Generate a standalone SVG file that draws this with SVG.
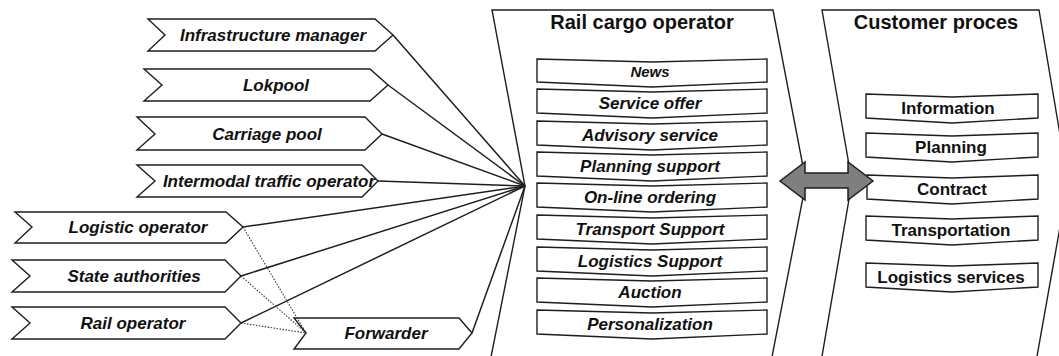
<svg xmlns="http://www.w3.org/2000/svg" width="1059" height="356" viewBox="0 0 1059 356">
<style>
.sh{fill:#fff;stroke:#1e1e1e;stroke-width:1.4;stroke-linejoin:miter}
.ln{fill:none;stroke:#1e1e1e;stroke-width:1.5}
.dt{fill:none;stroke:#333;stroke-width:1.1;stroke-dasharray:1.5 1.5}
.t{font-family:"Liberation Sans",Arial,sans-serif;font-weight:bold;font-style:italic;font-size:17px;fill:#111;text-anchor:middle}
.tn{font-family:"Liberation Sans",Arial,sans-serif;font-weight:bold;font-size:17px;fill:#111;text-anchor:middle}
.ti{font-family:"Liberation Sans",Arial,sans-serif;font-weight:bold;font-size:20px;fill:#111;text-anchor:middle}
.ar{fill:#7f7f7f;stroke:#1e1e1e;stroke-width:1.5;stroke-linejoin:miter}
</style>
<rect width="1059" height="356" fill="#fff"/>
<g id="panel-rail-cargo-operator">
<path class="sh" d="M492,10 L773,10 L806,182 L771,362 L490,362 L525,186 Z"/>
<text class="ti" x="642" y="29">Rail cargo operator</text>
</g>
<g id="panel-customer-proces">
<path class="sh" d="M822,10 L1039,10 L1068,182 L1036,362 L821,362 L852,182 Z"/>
<text class="ti" x="936" y="29">Customer proces</text>
</g>
<g id="node-infrastructure-manager">
<polygon class="sh" points="148,19 375,19 393,35 375,51 148,51 165,35"/>
<text class="t" x="273" y="41">Infrastructure manager</text>
</g>
<g id="node-lokpool">
<polygon class="sh" points="144,69 370,69 388,85 370,101 144,101 162,85"/>
<text class="t" x="276" y="91">Lokpool</text>
</g>
<g id="node-carriage-pool">
<polygon class="sh" points="137,117 365,117 382,134 365,150 137,150 155,134"/>
<text class="t" x="267" y="140">Carriage pool</text>
</g>
<g id="node-intermodal-traffic-operator">
<polygon class="sh" points="137,165 362,165 378,181 362,197 137,197 155,181"/>
<text class="t" x="269" y="187">Intermodal traffic operator</text>
</g>
<g id="node-logistic-operator">
<polygon class="sh" points="15,212 226,212 243,227 226,243 15,243 32,227"/>
<text class="t" x="138" y="233">Logistic operator</text>
</g>
<g id="node-state-authorities">
<polygon class="sh" points="12,260 225,260 241,276 225,292 12,292 30,276"/>
<text class="t" x="134" y="282">State authorities</text>
</g>
<g id="node-rail-operator">
<polygon class="sh" points="12,307 225,307 241,323 225,339 12,339 30,323"/>
<text class="t" x="133" y="329">Rail operator</text>
</g>
<g id="node-forwarder">
<polygon class="sh" points="294,318 459,318 472,333 459,349 294,349 306,333"/>
<text class="t" x="386" y="339">Forwarder</text>
</g>
<g id="rail-services">
<g id="svc-news"><path class="sh" d="M537,59 L652,62 L767,59 L767,82 L652,87 L537,82 Z"/><text class="t" style="font-size:15px" x="650" y="77">News</text></g>
<g id="svc-service-offer"><path class="sh" d="M537,89 L652,92 L767,89 L767,113 L652,118 L537,113 Z"/><text class="t" x="650" y="109">Service offer</text></g>
<g id="svc-advisory-service"><path class="sh" d="M537,121 L652,124 L767,121 L767,145 L652,150 L537,145 Z"/><text class="t" x="650" y="141">Advisory service</text></g>
<g id="svc-planning-support"><path class="sh" d="M537,152 L652,155 L767,152 L767,176 L652,181 L537,176 Z"/><text class="t" x="650" y="172">Planning support</text></g>
<g id="svc-on-line-ordering"><path class="sh" d="M537,183 L652,186 L767,183 L767,207 L652,212 L537,207 Z"/><text class="t" x="650" y="203">On-line ordering</text></g>
<g id="svc-transport-support"><path class="sh" d="M537,215 L652,218 L767,215 L767,239 L652,244 L537,239 Z"/><text class="t" x="650" y="235">Transport Support</text></g>
<g id="svc-logistics-support"><path class="sh" d="M537,247 L652,250 L767,247 L767,271 L652,276 L537,271 Z"/><text class="t" x="650" y="267">Logistics Support</text></g>
<g id="svc-auction"><path class="sh" d="M537,278 L652,281 L767,278 L767,302 L652,307 L537,302 Z"/><text class="t" x="650" y="298">Auction</text></g>
<g id="svc-personalization"><path class="sh" d="M537,310 L652,313 L767,310 L767,334 L652,339 L537,334 Z"/><text class="t" x="650" y="330">Personalization</text></g>
</g>
<g id="customer-steps">
<g id="step-information"><path class="sh" d="M866,94 L952,97 L1038,94 L1038,118 L952,123 L866,118 Z"/><text class="tn" x="948" y="114">Information</text></g>
<g id="step-planning"><path class="sh" d="M866,133 L952,136 L1038,133 L1038,157 L952,162 L866,157 Z"/><text class="tn" x="951" y="153">Planning</text></g>
<g id="step-contract"><path class="sh" d="M867,175 L952,178 L1038,175 L1038,199 L952,204 L867,199 Z"/><text class="tn" x="952" y="195">Contract</text></g>
<g id="step-transportation"><path class="sh" d="M866,216 L952,219 L1038,216 L1038,240 L952,245 L866,240 Z"/><text class="tn" x="951" y="236">Transportation</text></g>
<g id="step-logistics-services"><path class="sh" d="M866,263 L952,266 L1038,263 L1038,287 L952,292 L866,287 Z"/><text class="tn" x="951" y="283">Logistics services</text></g>
</g>
<g id="connectors">
<line class="ln" x1="393" y1="35" x2="525" y2="186"/>
<line class="ln" x1="388" y1="85" x2="525" y2="186"/>
<line class="ln" x1="382" y1="134" x2="525" y2="186"/>
<line class="ln" x1="378" y1="181" x2="525" y2="186"/>
<line class="ln" x1="243" y1="227" x2="525" y2="186"/>
<line class="ln" x1="241" y1="276" x2="525" y2="186"/>
<line class="ln" x1="241" y1="323" x2="525" y2="186"/>
<line class="ln" x1="472" y1="333" x2="525" y2="186"/>
<line class="dt" x1="243" y1="227" x2="306" y2="333"/>
<line class="dt" x1="241" y1="276" x2="306" y2="333"/>
<line class="dt" x1="241" y1="323" x2="306" y2="333"/>
<polygon class="ar" points="780,181 805,162 805,173 848,173 848,162 873,181 848,200 848,188 805,188 805,200"/>
</g>
</svg>
